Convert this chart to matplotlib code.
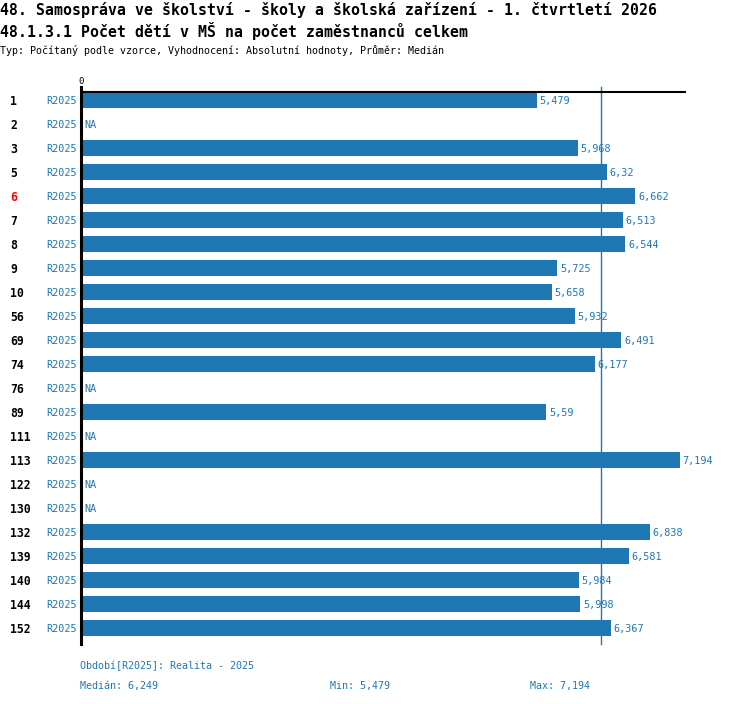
import matplotlib
matplotlib.use("Agg")
import matplotlib.pyplot as plt
import numpy as np

categories = ["1", "2", "3", "5", "6", "7", "8", "9", "10", "56", "69", "74", "76",
              "89", "111", "113", "122", "130", "132", "139", "140", "144", "152"]
values = [5.479, None, 5.968, 6.32, 6.662, 6.513, 6.544, 5.725, 5.658, 5.932, 6.491,
          6.177, None, 5.59, None, 7.194, None, None, 6.838, 6.581, 5.984, 5.998, 6.367]
period = "R2025"
highlight = "6"
median = 6.249
vmin = 5.479
vmax = 7.194

title1 = "48. Samospráva ve školství - školy a školská zařízení - 1. čtvrtletí 2026"
title2 = "48.1.3.1 Počet dětí v MŠ na počet zaměstnanců celkem"
subtitle = "Typ: Počítaný podle vzorce, Vyhodnocení: Absolutní hodnoty, Průměr: Medián"

BLUE = "#1f77b4"
W, H = 750, 704
MONO = ["DejaVu Sans Mono"]

def fmt(v):
    return ("%g" % v).replace(".", ",")

fig = plt.figure(figsize=(W / 100, H / 100), dpi=100)
ax_left, ax_right, ax_top, ax_bot = 81, 685, 92, 644
ax = fig.add_axes([ax_left / W, 1 - ax_bot / H, (ax_right - ax_left) / W, (ax_bot - ax_top) / H])

n = len(categories)
ypos = np.arange(n)
bar_vals = [v if v is not None else 0 for v in values]
ax.barh(ypos, bar_vals, height=0.667, color=BLUE, zorder=2)
ax.set_xlim(0, 7.26)
ax.set_ylim(n - 1 + 0.667, -0.333)

for s in ax.spines.values():
    s.set_visible(False)
ax.set_xticks([])
ax.set_yticks([])

ax_h = ax_bot - ax_top
ext = 5 / ax_h
# top axis line
ax.plot([0, 1], [1, 1], transform=ax.transAxes, color="black", lw=1.5, clip_on=False, zorder=3)
# left axis line
ax.plot([0, 0], [0, 1 + ext], transform=ax.transAxes, color="black", lw=2.2, clip_on=False, zorder=4)
# median line
ax.axvline(median, ymin=0, ymax=1 + ext, color=BLUE, lw=1, clip_on=False, zorder=1)

ax.text(0, 1 + 11 / ax_h, "0", transform=ax.transAxes, ha="center", va="center",
        fontsize=6.5, family=MONO)

for i, (c, v) in enumerate(zip(categories, values)):
    if v is None:
        ax.text(0.04, i + 0.05, "NA", ha="left", va="center", fontsize=7.3, color=BLUE, family=MONO)
    else:
        ax.text(v + 0.035, i + 0.05, fmt(v), ha="left", va="center", fontsize=7.3, color=BLUE, family=MONO)
    ax.text(-4 / 83.2, i + 0.05, period, ha="right", va="center", fontsize=7.3, color=BLUE, family=MONO)
    ax.text(-71 / 83.2, i + 0.05, c, ha="left", va="center", fontsize=8.3, fontweight="bold",
            color="red" if c == highlight else "black", family=MONO)

def ftext(x, y, s, **kw):
    fig.text(x / W, 1 - y / H, s, va="center", family=MONO, **kw)

ftext(0, 10, title1, fontsize=10.75, fontweight="bold")
ftext(0, 31, title2, fontsize=10.75, fontweight="bold")
ftext(0, 50, subtitle, fontsize=7.2)

ftext(80, 666, "Období[R2025]: Realita - 2025", fontsize=7.2, color=BLUE)
ftext(80, 686, "Medián: " + fmt(median), fontsize=7.2, color=BLUE)
ftext(330, 686, "Min: " + fmt(vmin), fontsize=7.2, color=BLUE)
ftext(530, 686, "Max: " + fmt(vmax), fontsize=7.2, color=BLUE)

fig.savefig("out.png", dpi=100)
